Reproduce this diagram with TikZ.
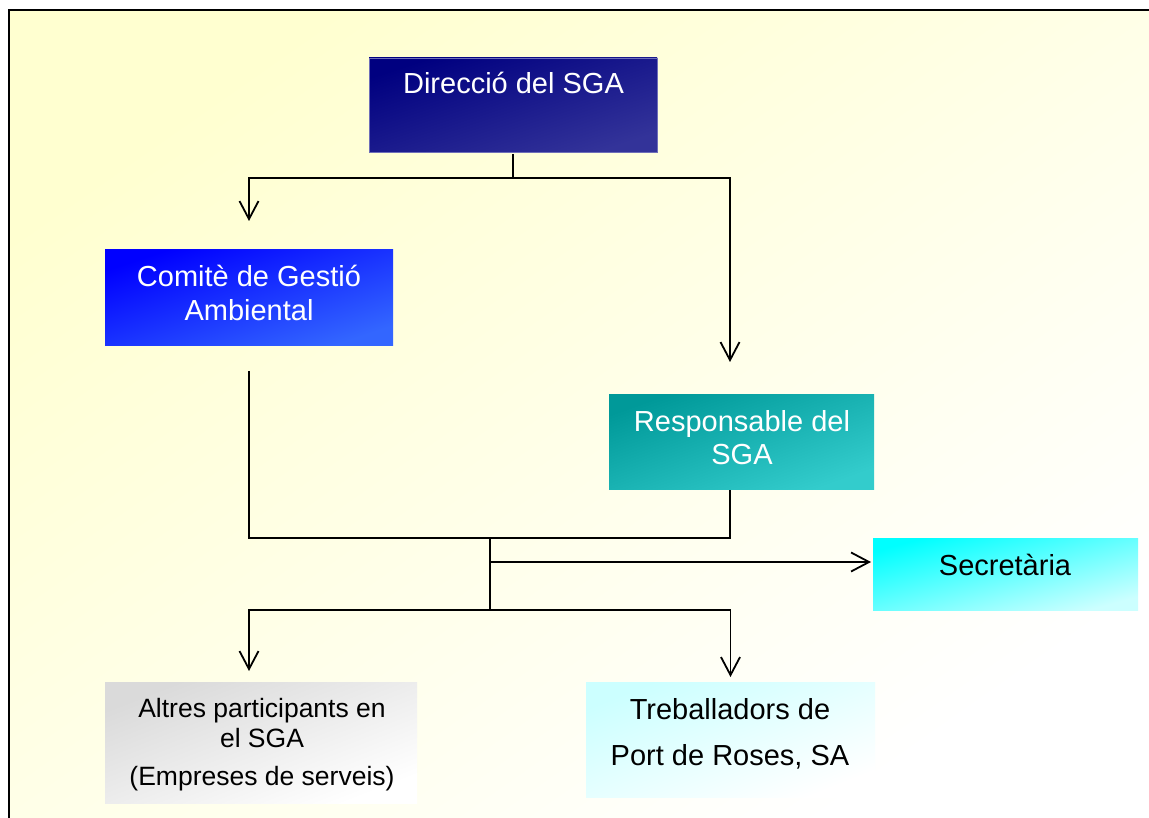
\documentclass[tikz,border=0pt]{standalone}
\usepackage{fontspec}
\setmainfont{Liberation Sans}
\usetikzlibrary{arrows.meta}
\definecolor{bgY}{RGB}{255,255,208}
\definecolor{dirA}{RGB}{0,0,128}
\definecolor{dirB}{RGB}{51,51,153}
\definecolor{dirE}{RGB}{110,110,185}
\definecolor{comA}{RGB}{0,0,255}
\definecolor{comB}{RGB}{51,102,255}
\definecolor{resA}{RGB}{0,153,153}
\definecolor{resB}{RGB}{51,204,204}
\definecolor{secA}{RGB}{0,255,255}
\definecolor{secB}{RGB}{204,255,255}
\definecolor{altA}{RGB}{218,218,218}
\definecolor{trbA}{RGB}{204,255,255}
\begin{document}
\begin{tikzpicture}[x=1pt,y=-1pt,
  conn/.style={line width=1.8pt, draw=black},
  arr/.style={conn, -{Straight Barb[length=18pt,width=19pt]}},
  box/.style={anchor=north west, inner sep=0pt, outer sep=0pt},
  diag/.style n args={3}{top color=#1, bottom color=#2, shading angle=#3},
  wt/.style={anchor=base, text=white, inner sep=0pt, font=\fontsize{29}{34}\selectfont},
  bt/.style={anchor=base, text=black, inner sep=0pt, font=\fontsize{29}{34}\selectfont},
  st/.style={anchor=base, text=black, inner sep=0pt, font=\fontsize{26.5}{30}\selectfont}
]
\useasboundingbox (0,0) rectangle (1149,818);
\fill[white] (0,0) rectangle (1149,818);
\shade[top color=bgY, bottom color=white, shading angle=35] (9,10) rectangle (1149,818);
\draw[line width=2pt] (9,818) -- (9,10) -- (1149,10);

% boxes
\node[box, diag={dirA}{dirB}{18}, draw=dirE, line width=0.8pt, minimum width=288pt, minimum height=94pt] (dir) at (369,58) {};
\node[box, diag={comA}{comB}{18.4}, minimum width=288pt, minimum height=96pt] (com) at (105,250) {};
\node[box, diag={resA}{resB}{19.7}, minimum width=265pt, minimum height=95pt] (res) at (609,394) {};
\node[box, diag={secA}{secB}{15.2}, minimum width=265pt, minimum height=72pt] (sec) at (873,538) {};
\node[box, diag={altA}{white}{21.2}, minimum width=312pt, minimum height=121pt] (alt) at (105,682) {};
\node[box, diag={trbA}{white}{21.7}, minimum width=289pt, minimum height=115pt] (trb) at (586,682) {};

% texts
\node[wt] (tdir) at (513.5,94) {Direcció del SGA};
\node[wt] (tcom1) at (249,287) {Comitè de Gestió};
\node[wt] (tcom2) at (249,321) {Ambiental};
\node[wt] (tres1) at (742,431) {Responsable del};
\node[wt] (tres2) at (742,464) {SGA};
\node[bt] (tsec) at (1005,575) {Secretària};
\node[st] (talt1) at (262,717) {Altres participants en};
\node[st] (talt2) at (262,747) {el SGA};
\node[st] (talt3) at (262,785) {(Empreses de serveis)};
\node[bt] (ttrb1) at (730,719) {Treballadors de};
\node[bt] (ttrb2) at (730,765) {Port de Roses, SA};

% junctions
\coordinate (j1) at (513,178);
\coordinate (cR) at (730,178);
\coordinate (rT) at (730,362);
\coordinate (j2) at (490,538);
\coordinate (rB) at (730,490);
\coordinate (j4) at (490,562);
\coordinate (j3) at (490,610);
\coordinate (aT) at (249,682);

% connectors
\draw[conn, shorten <=2pt] (dir.south) -- (j1);
\draw[arr, shorten >=29pt] (j1) -| (com.north);
\draw[arr] (j1) -- (cR) -- (rT);
\draw[conn, shorten <=25pt] (com.south) |- (j2) -| (rB);
\draw[conn] (j2) -- (j3);
\draw[arr, shorten >=2pt] (j4) -- (j4 -| sec.west);
\draw[arr, shorten >=11pt] (j3) -| (aT);
\draw[arr, shorten >=5pt] (j3) -| (trb.north);
\end{tikzpicture}
\end{document}
